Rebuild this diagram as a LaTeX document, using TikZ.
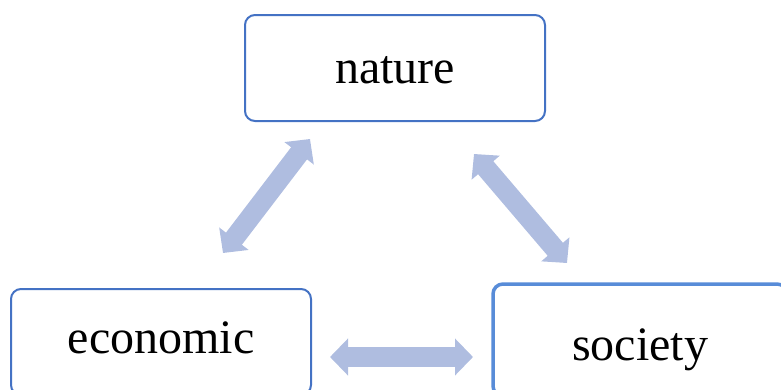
\documentclass[tikz,border=0pt]{standalone}
\usepackage{fontspec}
\setmainfont{Liberation Serif}
\usetikzlibrary{arrows.meta}
\definecolor{boxblue}{RGB}{68,114,196}
\definecolor{socblue}{RGB}{88,140,216}
\definecolor{arrowfill}{RGB}{175,189,224}
\begin{document}
\begin{tikzpicture}[x=1pt,y=-1pt,
  box/.style={draw=boxblue,line width=2pt,rounded corners=10pt,fill=white,
    minimum width=300pt,minimum height=106pt,inner sep=0pt,
    text height=32pt,text depth=2pt,
    font=\fontsize{48}{58}\selectfont},
  socbox/.style={box,draw=socblue,line width=3.5pt},
  bigarrow/.style={draw=arrowfill,line width=20pt,
    {Triangle[width=36pt,length=18pt]}-{Triangle[width=36pt,length=18pt]}}]
\useasboundingbox (0,0) rectangle (781,389);
\node[box] (nature) at (395,68) {nature};
\node[box,text depth=10pt] (economic) at (161,342) {economic};
\node[socbox,minimum width=294pt,minimum height=112pt,text height=40pt,text depth=-2pt] (society) at (640,340) {society};
\coordinate (l1) at (223,253);
\coordinate (l2) at (310,139);
\coordinate (r1) at (474,154);
\coordinate (r2) at (567,263);
\coordinate (h1) at (330,357);
\coordinate (h2) at (473,357);
\draw[bigarrow] (l1) -- (l2);
\draw[bigarrow] (r1) -- (r2);
\draw[bigarrow] (h1) -- (h2);
\end{tikzpicture}
\end{document}
